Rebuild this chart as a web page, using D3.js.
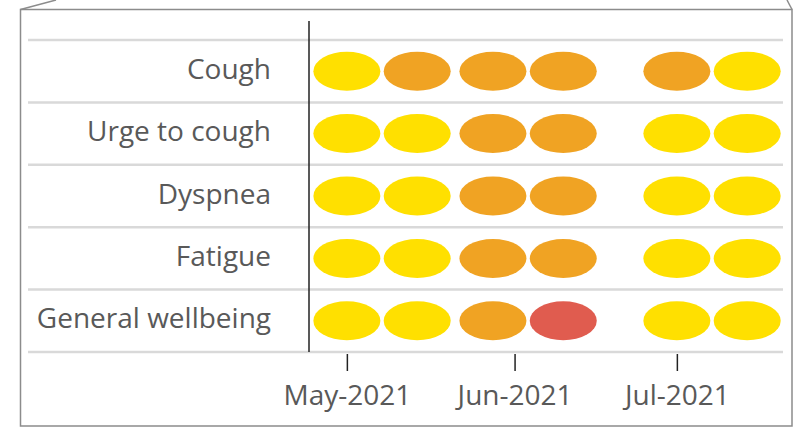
<!DOCTYPE html>
<html>
<head>
<meta charset="utf-8">
<script src="https://cdn.jsdelivr.net/npm/d3@7"></script>
<style>
  body { margin: 0; background: #fff; }
  svg { display: block; }
</style>
</head>
<body>
<div id="chart"></div>
<script>
// symptom rows, top to bottom
const symptoms = ["Cough", "Urge to cough", "Dyspnea", "Fatigue", "General wellbeing"];
// assessment dates
const visitDates = ["2021-05-01", "2021-05-14", "2021-05-28", "2021-06-10", "2021-07-01", "2021-07-14"];
// severity per symptom per visit (1 = mild, 2 = moderate, 3 = severe)
const coughLevels    = [1, 2, 2, 2, 2, 1];
const urgeLevels     = [1, 1, 2, 2, 1, 1];
const dyspneaLevels  = [1, 1, 2, 2, 1, 1];
const fatigueLevels  = [1, 1, 2, 2, 1, 1];
const wellbeingLevels = [1, 1, 2, 3, 1, 1];
const tickDates = ["2021-05-01", "2021-06-01", "2021-07-01"];

const levelsBySymptom = [coughLevels, urgeLevels, dyspneaLevels, fatigueLevels, wellbeingLevels];

const W = 800, H = 429;
const parse = d3.timeParse("%Y-%m-%d");

const svg = d3.select("#chart").append("svg")
    .attr("width", W)
    .attr("height", H);

// frame (looks like a slightly tilted card)
const frame = svg.append("g").attr("fill", "none").attr("stroke", "#8c8c8c").attr("stroke-width", 1.5);
frame.append("path").attr("d", "M20.5,426 L20.5,9.5 L792,9.5 L792,426 Z");
frame.append("path").attr("d", "M20.5,9.5 L56,0");
frame.append("path").attr("d", "M792,9.5 L787,0");

const plotLeft = 309, plotRight = 781;
const gridLeft = 28;

const x = d3.scaleTime()
    .domain([new Date(2021, 3, 24), new Date(2021, 6, 20, 6)])
    .range([plotLeft, plotRight]);

const y = d3.scaleBand()
    .domain(symptoms)
    .range([40, 352]);

const color = d3.scaleOrdinal()
    .domain([1, 2, 3])
    .range(["#FFE000", "#F0A323", "#E05C4F"]);

// horizontal grid lines between rows
const bounds = symptoms.map(s => y(s)).concat([y.range()[1]]);
svg.append("g")
   .selectAll("line")
   .data(bounds)
   .enter().append("line")
   .attr("x1", gridLeft)
   .attr("x2", plotRight + 2)
   .attr("y1", d => d)
   .attr("y2", d => d)
   .attr("stroke", "#d9d9d9")
   .attr("stroke-width", 2.5);

// row labels
svg.append("g")
   .selectAll("text")
   .data(symptoms)
   .enter().append("text")
   .attr("x", 271)
   .attr("y", d => y(d) + y.bandwidth() / 2)
   .attr("dy", "0.27em")
   .attr("text-anchor", "end")
   .style("font-family", "'Open Sans', sans-serif")
   .style("font-size", "28px")
   .style("fill", "#595959")
   .text(d => d);

// ellipses
const cells = [];
symptoms.forEach((s, i) => {
    levelsBySymptom[i].forEach((lvl, j) => {
        cells.push({ symptom: s, date: parse(visitDates[j]), level: lvl });
    });
});

svg.append("g")
   .selectAll("ellipse")
   .data(cells)
   .enter().append("ellipse")
   .attr("cx", d => x(d.date))
   .attr("cy", d => y(d.symptom) + y.bandwidth() / 2)
   .attr("rx", 33.5)
   .attr("ry", 19.5)
   .attr("fill", d => color(d.level));

// vertical axis line
svg.append("line")
   .attr("x1", plotLeft)
   .attr("x2", plotLeft)
   .attr("y1", 21)
   .attr("y2", 352)
   .attr("stroke", "#222")
   .attr("stroke-width", 1.5);

// x axis
const xAxis = svg.append("g")
   .attr("transform", "translate(0,354)")
   .call(d3.axisBottom(x)
        .tickValues(tickDates.map(parse))
        .tickSize(17)
        .tickPadding(14)
        .tickFormat(d3.timeFormat("%b-%Y")));

xAxis.select(".domain").remove();
xAxis.selectAll(".tick line").attr("stroke", "#222").attr("stroke-width", 1.5);
xAxis.selectAll(".tick text")
     .style("font-family", "'Open Sans', sans-serif")
     .style("font-size", "28px")
     .style("fill", "#595959");
</script>
</body>
</html>
